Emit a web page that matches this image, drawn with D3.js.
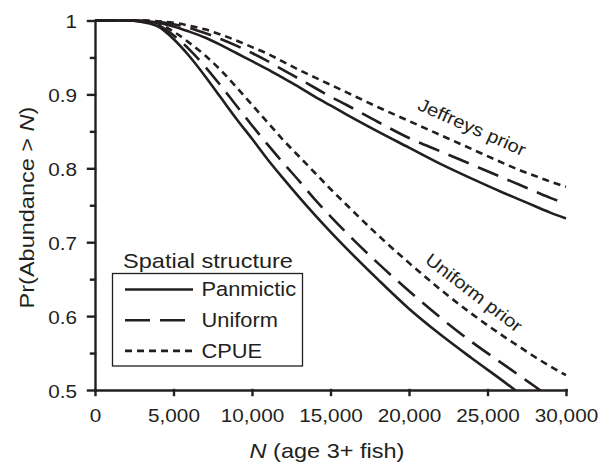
<!DOCTYPE html>
<html>
<head>
<meta charset="utf-8">
<script src="https://cdn.jsdelivr.net/npm/d3@7"></script>
<style>
  body { margin: 0; background: #fff; }
  svg { display: block; font-family: "Liberation Sans", Arial, sans-serif; }
  text { fill: #231f20; }
</style>
</head>
<body>
<div id="chart"></div>
<script>
// N grid (age 3+ fish) and Pr(Abundance > N) for each prior / spatial structure
var nGrid = [0, 2000, 3000, 4000, 5000, 6000, 7000, 8000, 9000, 10000, 11000, 12000, 13000,
             14000, 15000, 16000, 18000, 20000, 22000, 24000, 26000, 27000, 28000, 29000, 30000];

var jeffreysPanmictic = [1, 1, 0.999, 0.997, 0.992, 0.985, 0.977, 0.967, 0.956, 0.945, 0.934, 0.922, 0.91,
                         0.897, 0.885, 0.873, 0.85, 0.828, 0.806, 0.786, 0.767, 0.758, 0.749, 0.74, 0.732];
var jeffreysUniform   = [1, 1, 1, 0.998, 0.995, 0.99, 0.983, 0.975, 0.966, 0.956, 0.945, 0.933, 0.921,
                         0.909, 0.897, 0.886, 0.863, 0.841, 0.823, 0.805, 0.787, 0.778, 0.769, 0.76, 0.752];
var jeffreysCpue      = [1, 1, 1, 0.999, 0.997, 0.993, 0.988, 0.981, 0.973, 0.964, 0.955, 0.944, 0.933,
                         0.923, 0.913, 0.903, 0.883, 0.864, 0.845, 0.826, 0.807, 0.798, 0.79, 0.782, 0.775];

var uniformPanmictic  = [1, 1, 0.998, 0.992, 0.975, 0.952, 0.925, 0.896, 0.867, 0.84, 0.812, 0.786, 0.761,
                         0.737, 0.714, 0.692, 0.65, 0.61, 0.575, 0.543, 0.512, 0.496, null, null, null];
var uniformUniform    = [1, 1, 0.999, 0.994, 0.98, 0.961, 0.938, 0.912, 0.885, 0.858, 0.832, 0.807, 0.783,
                         0.758, 0.735, 0.713, 0.672, 0.634, 0.598, 0.565, 0.535, 0.52, 0.505, 0.49, null];
var uniformCpue       = [1, 1, 1, 0.996, 0.985, 0.97, 0.953, 0.933, 0.91, 0.886, 0.862, 0.838, 0.816,
                         0.794, 0.772, 0.751, 0.71, 0.672, 0.636, 0.603, 0.573, 0.559, 0.545, 0.532, 0.52];

var xTicks = [0, 5000, 10000, 15000, 20000, 25000, 30000];
var yTicks = [0.5, 0.6, 0.7, 0.8, 0.9, 1];
var yMinorTicks = [0.55, 0.65, 0.75, 0.85, 0.95];

var structures = ['Panmictic', 'Uniform', 'CPUE'];
var dashes = { Panmictic: null, Uniform: '22,10', CPUE: '7,5' };

var series = [
  { structure: 'Panmictic', values: jeffreysPanmictic },
  { structure: 'Uniform',   values: jeffreysUniform },
  { structure: 'CPUE',      values: jeffreysCpue },
  { structure: 'Panmictic', values: uniformPanmictic },
  { structure: 'Uniform',   values: uniformUniform },
  { structure: 'CPUE',      values: uniformCpue }
];

var W = 609, H = 464;
var INK = '#231f20';
var SX = 1.12;   // the fonts in the figure are a little wide

var svg = d3.select('#chart').append('svg')
  .attr('width', W).attr('height', H);
svg.append('rect').attr('width', W).attr('height', H).attr('fill', '#fff');

var x = d3.scaleLinear().domain([0, 30000]).range([95, 566]);
var y = d3.scaleLinear().domain([0.5, 1]).range([390, 20.5]);

function addText(g, tx, ty, str, size, anchor, rot) {
  return g.append('text')
    .attr('transform', 'translate(' + tx + ',' + ty + ') rotate(' + (rot || 0) + ') scale(' + SX + ',1)')
    .attr('text-anchor', anchor || 'start')
    .style('font-size', size + 'px')
    .text(str);
}

// clip so lines stop at the x axis
svg.append('clipPath').attr('id', 'plot-clip')
  .append('rect')
  .attr('x', x(0)).attr('y', y(1) - 5)
  .attr('width', x(30000) - x(0) + 5).attr('height', y(0.5) - y(1) + 5);

// curves
var line = d3.line()
  .defined(function(d) { return d.p != null; })
  .x(function(d) { return x(d.n); })
  .y(function(d) { return y(d.p); })
  .curve(d3.curveMonotoneX);

svg.append('g')
  .attr('class', 'lines')
  .attr('clip-path', 'url(#plot-clip)')
  .selectAll('path')
  .data(series)
  .enter()
  .append('path')
  .attr('fill', 'none')
  .attr('stroke', INK)
  .attr('stroke-width', 2.6)
  .attr('stroke-dasharray', function(d) { return dashes[d.structure]; })
  .attr('d', function(d) {
    return line(nGrid.map(function(n, i) { return { n: n, p: d.values[i] }; }));
  });

// y axis
var yAxis = svg.append('g')
  .attr('transform', 'translate(' + x(0) + ',0)')
  .call(d3.axisLeft(y).tickValues(yTicks).tickSize(7).tickSizeOuter(0)
        .tickFormat(function(d) { return d === 1 ? '1' : d3.format('.1f')(d); }));
svg.append('g')
  .attr('transform', 'translate(' + x(0) + ',0)')
  .call(d3.axisLeft(y).tickValues(yMinorTicks).tickSize(4).tickSizeOuter(0).tickFormat(''))
  .call(function(g) { g.select('.domain').remove(); });

yAxis.selectAll('.tick text')
  .attr('x', null).attr('dy', null)
  .attr('transform', 'translate(-18,7.2) scale(' + SX + ',1)')
  .style('font-size', '18.5px');

// x axis
var xAxis = svg.append('g')
  .attr('transform', 'translate(0,' + y(0.5) + ')')
  .call(d3.axisBottom(x).tickValues(xTicks).tickSize(5).tickSizeOuter(0).tickFormat(d3.format(',')));

xAxis.selectAll('.tick text')
  .attr('y', null).attr('dy', null)
  .attr('transform', 'translate(0,31.5) scale(' + SX + ',1)')
  .style('font-size', '18.5px');

svg.selectAll('.domain, .tick line')
  .attr('stroke', INK)
  .attr('stroke-width', 2.4)
  .attr('stroke-linecap', 'square');
svg.selectAll('.tick text').attr('fill', INK).style('font-family', '"Liberation Sans", Arial, sans-serif');

// axis titles
var xt = addText(svg, 327, 457.5, '', 21, 'middle');
xt.append('tspan').style('font-style', 'italic').text('N');
xt.append('tspan').text(' (age 3+ fish)');

var yt = addText(svg, 33.5, 207.5, '', 21, 'middle', -90);
yt.append('tspan').text('Pr(Abundance > ');
yt.append('tspan').style('font-style', 'italic').text('N');
yt.append('tspan').text(')');

// curve group labels
addText(svg, 472, 127, 'Jeffreys prior', 18, 'middle', 24).attr('dy', '0.35em');
addText(svg, 474, 292.5, 'Uniform prior', 18, 'middle', 37.5).attr('dy', '0.35em');

// legend
var legend = svg.append('g').attr('class', 'legend');
addText(legend, 208, 267.5, 'Spatial structure', 21, 'middle');
legend.append('rect')
  .attr('x', 112.5).attr('y', 273.5)
  .attr('width', 190).attr('height', 92.5)
  .attr('fill', 'none').attr('stroke', INK).attr('stroke-width', 1.3);

var legendDash = { Panmictic: null, Uniform: '25,10', CPUE: '7,5' };
var legendEnd = { Panmictic: 193, Uniform: 185, CPUE: 193 };
structures.forEach(function(s, i) {
  var ly = 289.5 + i * 30.7;
  legend.append('line')
    .attr('x1', 125).attr('x2', legendEnd[s])
    .attr('y1', ly).attr('y2', ly)
    .attr('stroke', INK).attr('stroke-width', 2.6)
    .attr('stroke-dasharray', legendDash[s]);
  addText(legend, 201.5, ly + 6.6, s, 19.5, 'start');
});
</script>
</body>
</html>
